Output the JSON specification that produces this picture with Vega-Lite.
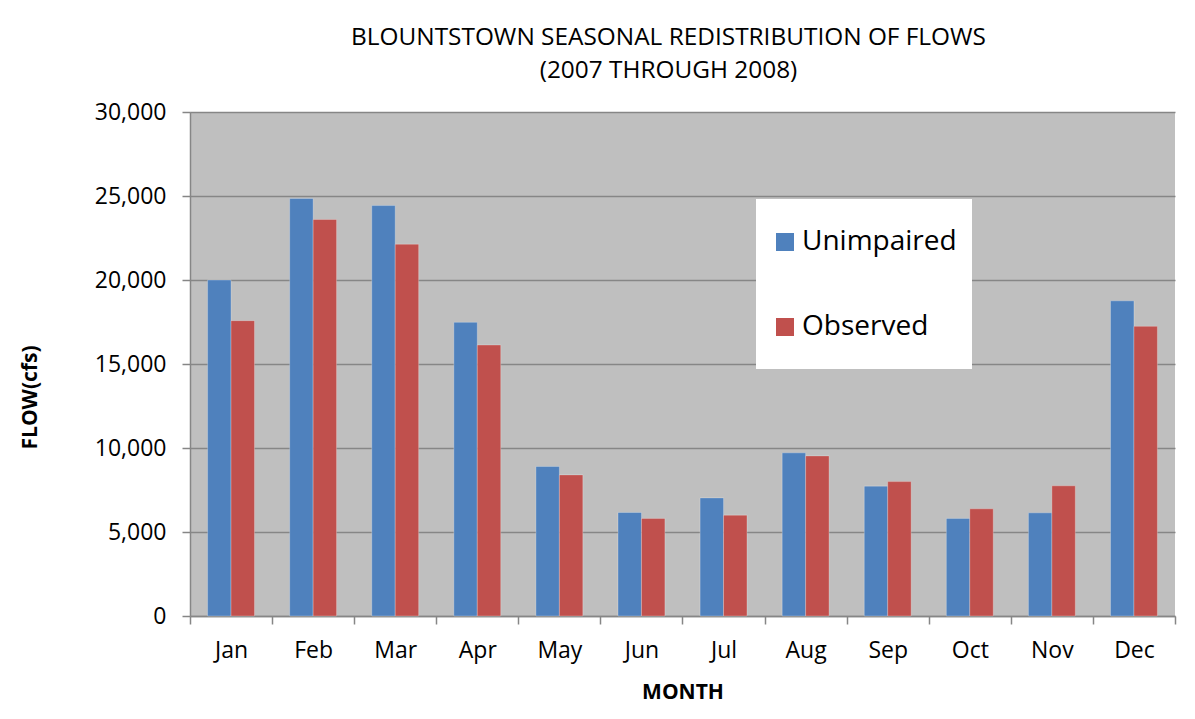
{
  "$schema": "https://vega.github.io/schema/vega-lite/v6.json",
  "autosize": "none",
  "width": 985,
  "height": 504,
  "padding": {"left": 190, "top": 112, "right": 20, "bottom": 103},
  "background": "white",
  "title": {
    "text": ["BLOUNTSTOWN SEASONAL REDISTRIBUTION OF FLOWS", "(2007 THROUGH 2008)"],
    "font": "Open Sans",
    "fontSize": 24.4,
    "fontWeight": "normal",
    "color": "#000000",
    "lineHeight": 33,
    "anchor": "middle",
    "dx": -14,
    "offset": 18
  },
  "data": {
    "values": [
      {"month": "Jan", "series": "Unimpaired", "flow": 20000},
      {"month": "Jan", "series": "Observed", "flow": 17580},
      {"month": "Feb", "series": "Unimpaired", "flow": 24850},
      {"month": "Feb", "series": "Observed", "flow": 23600},
      {"month": "Mar", "series": "Unimpaired", "flow": 24430},
      {"month": "Mar", "series": "Observed", "flow": 22130},
      {"month": "Apr", "series": "Unimpaired", "flow": 17480},
      {"month": "Apr", "series": "Observed", "flow": 16130},
      {"month": "May", "series": "Unimpaired", "flow": 8900},
      {"month": "May", "series": "Observed", "flow": 8400},
      {"month": "Jun", "series": "Unimpaired", "flow": 6160},
      {"month": "Jun", "series": "Observed", "flow": 5810},
      {"month": "Jul", "series": "Unimpaired", "flow": 7030},
      {"month": "Jul", "series": "Observed", "flow": 6000},
      {"month": "Aug", "series": "Unimpaired", "flow": 9710},
      {"month": "Aug", "series": "Observed", "flow": 9530},
      {"month": "Sep", "series": "Unimpaired", "flow": 7730},
      {"month": "Sep", "series": "Observed", "flow": 8000},
      {"month": "Oct", "series": "Unimpaired", "flow": 5810},
      {"month": "Oct", "series": "Observed", "flow": 6380},
      {"month": "Nov", "series": "Unimpaired", "flow": 6140},
      {"month": "Nov", "series": "Observed", "flow": 7750},
      {"month": "Dec", "series": "Unimpaired", "flow": 18760},
      {"month": "Dec", "series": "Observed", "flow": 17240}
    ]
  },
  "mark": {"type": "bar", "stroke": "#ffffff", "strokeOpacity": 0.25, "strokeWidth": 1},
  "encoding": {
    "x": {
      "field": "month",
      "type": "nominal",
      "sort": ["Jan", "Feb", "Mar", "Apr", "May", "Jun", "Jul", "Aug", "Sep", "Oct", "Nov", "Dec"],
      "scale": {"paddingInner": 0, "paddingOuter": 0},
      "axis": {
        "title": "MONTH",
        "labelAngle": 0,
        "tickBand": "extent",
        "tickSize": 8,
        "labelPadding": 15,
        "titlePadding": 19,
        "grid": false
      }
    },
    "xOffset": {
      "field": "series",
      "type": "nominal",
      "sort": ["Unimpaired", "Observed"],
      "scale": {"paddingInner": 0, "paddingOuter": 0.75}
    },
    "y": {
      "field": "flow",
      "type": "quantitative",
      "scale": {"domain": [0, 30000], "nice": false},
      "axis": {
        "title": "FLOW(cfs)",
        "values": [0, 5000, 10000, 15000, 20000, 25000, 30000],
        "format": ",d",
        "tickSize": 8,
        "labelPadding": 16,
        "titlePadding": 54,
        "titleY": 285,
        "titleAnchor": "middle"
      }
    },
    "color": {
      "field": "series",
      "type": "nominal",
      "sort": ["Unimpaired", "Observed"],
      "scale": {"domain": ["Unimpaired", "Observed"], "range": ["#4F81BD", "#C0504D"]},
      "legend": {
        "title": " ",
        "titleFontSize": 14,
        "titlePadding": 0,
        "orient": "none",
        "legendX": 566,
        "legendY": 87,
        "fillColor": "#ffffff",
        "padding": 15,
        "symbolType": "square",
        "symbolSize": 324,
        "symbolStrokeWidth": 0,
        "labelFontSize": 28,
        "labelFont": "Open Sans",
        "labelColor": "#000000",
        "labelOffset": 3,
        "rowPadding": 57,
        "labelLimit": 300,
        "labelExpr": "datum.label === 'Observed' ? ['Observed', ''] : datum.label"
      }
    }
  },
  "config": {
    "style": {"guide-label": {"lineHeight": 13}},
    "view": {"fill": "#BFBFBF", "stroke": null},
    "axis": {
      "labelFont": "Open Sans",
      "labelFontSize": 23,
      "labelColor": "#000000",
      "titleFont": "Open Sans",
      "titleFontSize": 21,
      "titleFontWeight": "bold",
      "titleColor": "#000000",
      "domainColor": "#868686",
      "domainWidth": 1.5,
      "tickColor": "#868686",
      "tickWidth": 1.5,
      "gridColor": "#868686",
      "gridWidth": 1.5,
      "gridOpacity": 1
    }
  }
}
